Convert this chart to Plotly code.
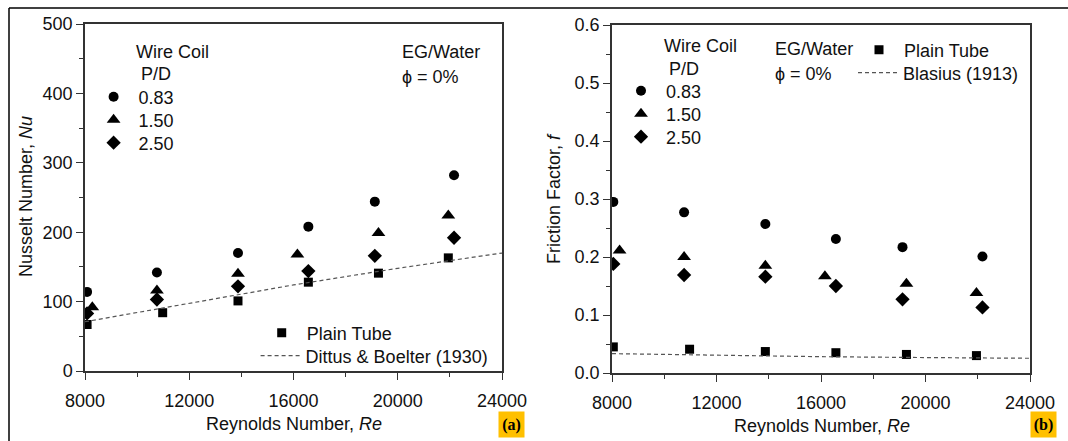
import plotly.graph_objects as go

# ---------------- data ----------------
# (a) Nusselt number
re_nu_083 = [8080, 10760, 13870, 16570, 19120, 22160]
nu_083 = [114, 142, 170, 208, 244, 282]
re_nu_150 = [8280, 10760, 13870, 16150, 19260, 21940]
nu_150 = [92, 116, 140, 168, 199, 224]
re_nu_250 = [8080, 10760, 13870, 16570, 19120, 22160]
nu_250 = [83, 103, 122, 144, 166, 192]
re_nu_plain = [8080, 10980, 13870, 16570, 19260, 21940]
nu_plain = [67, 84, 101, 128, 141, 163]
re_corr = [8000, 12000, 16000, 20000, 24000]
nu_dittus = [71, 98, 124, 148, 170]

# (b) Friction factor
re_f_083 = [8050, 10760, 13870, 16570, 19120, 22180]
f_083 = [0.295, 0.277, 0.257, 0.231, 0.217, 0.201]
re_f_150 = [8290, 10760, 13870, 16150, 19270, 21950]
f_150 = [0.211, 0.200, 0.185, 0.167, 0.154, 0.138]
re_f_250 = [8050, 10760, 13870, 16570, 19120, 22180]
f_250 = [0.188, 0.169, 0.166, 0.150, 0.127, 0.113]
re_f_plain = [8050, 10970, 13870, 16570, 19270, 21950]
f_plain = [0.045, 0.041, 0.037, 0.035, 0.032, 0.030]
f_blasius = [0.0334, 0.0302, 0.0281, 0.0266, 0.0254]

x_ticks = [8000, 12000, 16000, 20000, 24000]
nu_ticks = [0, 100, 200, 300, 400, 500]
f_ticks = [0.0, 0.1, 0.2, 0.3, 0.4, 0.5, 0.6]

W, H = 1068, 441
FONT = "Liberation Sans, Arial, sans-serif"
TXT = "#111111"
FS = 18


def px(x):
    return x / W


def py(y):
    return 1 - y / H


fig = go.Figure()

def add_series(xs, ys, name, symbol, size, xa, ya, legend):
    fig.add_trace(go.Scatter(
        x=xs, y=ys, mode="markers", name=name,
        marker=dict(symbol=symbol, size=size, color="black", line=dict(width=0)),
        xaxis=xa, yaxis=ya, legend=legend, showlegend=True))

def add_line(xs, ys, name, xa, ya, legend):
    fig.add_trace(go.Scatter(
        x=xs, y=ys, mode="lines", name=name,
        line=dict(color="#555555", width=1.2, dash="4px,3px"),
        xaxis=xa, yaxis=ya, legend=legend, showlegend=True))

# left panel
add_series(re_nu_083, nu_083, "0.83", "circle", 10, "x", "y", "legend")
add_series(re_nu_150, nu_150, "1.50", "triangle-up", 12, "x", "y", "legend2")
add_series(re_nu_250, nu_250, "2.50", "diamond", 11, "x", "y", "legend3")
add_series(re_nu_plain, nu_plain, "Plain Tube", "square", 9, "x", "y", "legend4")
add_line(re_corr, nu_dittus, "Dittus & Boelter (1930)", "x", "y", "legend5")
# right panel
add_series(re_f_083, f_083, "0.83", "circle", 10, "x2", "y2", "legend6")
add_series(re_f_150, f_150, "1.50", "triangle-up", 12, "x2", "y2", "legend7")
add_series(re_f_250, f_250, "2.50", "diamond", 11, "x2", "y2", "legend8")
add_series(re_f_plain, f_plain, "Plain Tube", "square", 9, "x2", "y2", "legend9")
add_line(re_corr, f_blasius, "Blasius (1913)", "x2", "y2", "legend10")

axis_common = dict(
    showgrid=False, zeroline=False, showline=True, mirror=True,
    linecolor="#333333", linewidth=1.5, ticks="outside", ticklen=7,
    tickwidth=1.2, tickcolor="#333333",
    tickfont=dict(family=FONT, size=FS, color=TXT),
)
x_extra = dict(ticklabelstandoff=6)

fig.update_layout(
    width=W, height=H,
    margin=dict(l=0, r=0, t=0, b=0, autoexpand=False),
    paper_bgcolor="white", plot_bgcolor="white",
    font=dict(family=FONT, size=FS, color=TXT),
    xaxis=dict(axis_common, **x_extra, domain=[px(85), px(502)], range=[8000, 24000],
               tickvals=x_ticks, tickformat="d", anchor="y",
               minor=dict(dtick=2000, ticks="outside", ticklen=4, tickcolor="#333333")),
    yaxis=dict(axis_common, domain=[py(371), py(24)], range=[0, 500],
               tickvals=nu_ticks, anchor="x",
               minor=dict(dtick=50, ticks="outside", ticklen=4, tickcolor="#333333")),
    xaxis2=dict(axis_common, **x_extra, domain=[px(612), px(1030)], range=[8000, 24000],
                tickvals=x_ticks, tickformat="d", anchor="y2",
                minor=dict(dtick=2000, ticks="outside", ticklen=4, tickcolor="#333333")),
    yaxis2=dict(axis_common, domain=[py(373), py(25)], range=[0, 0.6],
                tickvals=f_ticks, tickformat=".1f", anchor="x2",
                minor=dict(dtick=0.05, ticks="outside", ticklen=4, tickcolor="#333333")),
)

# individual legends, positioned like the reference keys
leg_base = dict(bgcolor="rgba(0,0,0,0)", borderwidth=0, xanchor="left", yanchor="middle",
                font=dict(family=FONT, size=FS, color=TXT), itemclick=False,
                itemwidth=40)
legend_pos = {
    "legend": (113.6, 97), "legend2": (113.6, 120), "legend3": (113.6, 143),
    "legend4": (281.7, 333), "legend5": (280.6, 356),
    "legend6": (641, 91), "legend7": (641, 114), "legend8": (641, 137),
    "legend9": (879, 50), "legend10": (878, 73),
}
for key, (cx, cy) in legend_pos.items():
    fig.update_layout({key: dict(leg_base, x=px(cx - 25), y=py(cy))})

# free text labels
def label(x, y, text, **kw):
    fig.add_annotation(x=px(x), y=py(y), xref="paper", yref="paper", text=text,
                       showarrow=False, xanchor=kw.get("xanchor", "left"),
                       yanchor="middle", font=dict(family=FONT, size=FS, color=TXT),
                       textangle=kw.get("textangle", 0))

label(133.6, 52, "Wire Coil")
label(139, 74, "P/D")
label(399.5, 52, "EG/Water")
label(399.5, 77, "ϕ = 0%")
label(662, 46, "Wire Coil")
label(666.6, 69, "P/D")
label(773, 49, "EG/Water")
label(773, 74, "ϕ = 0%")

# axis titles
label(294, 424, "Reynolds Number, <i>Re</i>", xanchor="center")
label(822, 426, "Reynolds Number, <i>Re</i>", xanchor="center")
fig.add_annotation(x=px(26), y=py(197), xref="paper", yref="paper",
                   text="Nusselt Number, <i>Nu</i>", showarrow=False, textangle=-90,
                   xanchor="center", yanchor="middle",
                   font=dict(family=FONT, size=FS, color=TXT))
fig.add_annotation(x=px(554), y=py(199), xref="paper", yref="paper",
                   text="Friction Factor, <i>f</i>", showarrow=False, textangle=-90,
                   xanchor="center", yanchor="middle",
                   font=dict(family=FONT, size=FS, color=TXT))

# panel tags
for cx, tag in [(511.5, "(a)"), (1043, "(b)")]:
    fig.add_annotation(x=px(cx), y=py(424.5), xref="paper", yref="paper",
                       text="<b>" + tag + "</b>", showarrow=False,
                       xanchor="center", yanchor="middle", width=25, height=25,
                       bgcolor="#FFC000", borderpad=0,
                       font=dict(family="Liberation Serif, DejaVu Serif, serif",
                                 size=16, color="black"))

# outer frame (left and top edges)
fig.add_shape(type="line", xref="paper", yref="paper", x0=px(9), y0=0, x1=px(9), y1=py(8),
              line=dict(color="black", width=1.5))
fig.add_shape(type="line", xref="paper", yref="paper", x0=px(9), y0=py(8), x1=1, y1=py(8),
              line=dict(color="black", width=1.5))

fig.write_html("out.html")
